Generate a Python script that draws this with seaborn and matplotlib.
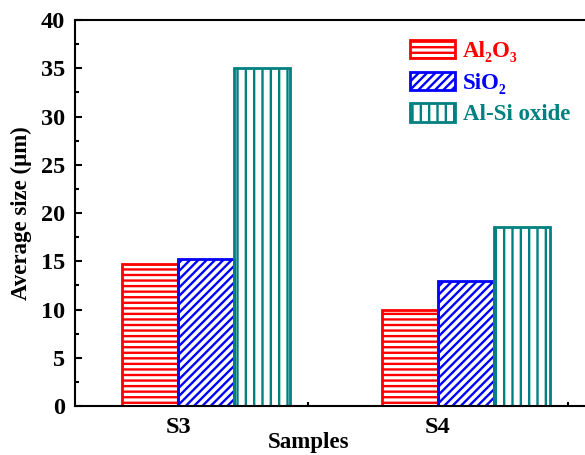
import matplotlib
matplotlib.use("Agg")
import matplotlib.pyplot as plt
import seaborn as sns
import pandas as pd
from matplotlib.ticker import FixedLocator, MultipleLocator

samples = ["S3", "S4"]
phases = ["Al₂O₃", "SiO₂", "Al-Si oxide"]
al2o3 = [14.7, 9.9]
sio2 = [15.2, 13.0]
alsi = [35.0, 18.6]
colors = ["#FF0000", "#0000FF", "#008080"]
hatches = ["---", "////", "||"]

rows = []
for s, a, b, c in zip(samples, al2o3, sio2, alsi):
    rows += [(s, phases[0], a), (s, phases[1], b), (s, phases[2], c)]
df = pd.DataFrame(rows, columns=["sample", "phase", "size"])

sns.set_style("ticks")
plt.rcParams["font.family"] = ["Liberation Serif", "DejaVu Serif"]
plt.rcParams["font.weight"] = "bold"
plt.rcParams["hatch.linewidth"] = 1.7
for k in ["text.color", "axes.labelcolor", "xtick.color", "ytick.color", "axes.edgecolor"]:
    plt.rcParams[k] = "black"

W, H = 585, 455
fig = plt.figure(figsize=(W / 100, H / 100), dpi=100)
ax = fig.add_axes([75 / W, (H - 406) / H, 1 - 75 / W, (406 - 20) / H])

total_w = 0.646
sns.barplot(data=df, x="sample", y="size", hue="phase", order=samples,
            hue_order=phases, palette=colors, fill=False, width=total_w,
            linewidth=2, ax=ax, legend=False, errorbar=None)

for cont, h, col in zip(ax.containers, hatches, colors):
    for p in cont.patches:
        p.set_hatch(h)
        p.set_edgecolor(col)
        p.set_linewidth(2)

ax.set_ylim(0, 40)
ax.set_xlim(-0.504, 1.458)
bw = total_w / len(phases)
ticks = [i - bw / 2 for i in range(len(samples))]
ax.xaxis.set_major_locator(FixedLocator(ticks))
ax.set_xticklabels(samples)
ax.xaxis.set_minor_locator(FixedLocator([t + 0.5 for t in ticks]))
ax.yaxis.set_major_locator(MultipleLocator(5))
ax.yaxis.set_minor_locator(MultipleLocator(2.5))
ax.tick_params(which="both", direction="in", width=1.5, labelsize=17.5, colors="black")
ax.tick_params(which="major", length=5)
ax.tick_params(which="minor", length=3)
ax.tick_params(axis="x", which="major", pad=8)
ax.tick_params(axis="y", which="major", pad=7)
for lab in ax.get_xticklabels() + ax.get_yticklabels():
    lab.set_fontweight("bold")

for side in ["left", "bottom", "top"]:
    ax.spines[side].set_visible(True)
    ax.spines[side].set_linewidth(1.5)
    ax.spines[side].set_color("black")
ax.spines["right"].set_visible(False)

ax.set_xlabel("Samples", fontsize=16.5, fontweight="bold")
ax.set_ylabel("Average size (μm)", fontsize=16.5, fontweight="bold")
ax.xaxis.set_label_coords((309 - 75) / (W - 75), -0.068)
ax.yaxis.set_label_coords(-0.084, 0.5)

leg = ax.legend(ax.containers, phases, loc="upper left",
                bbox_to_anchor=(410 / W, 1 - 40 / H), bbox_transform=fig.transFigure,
                frameon=False, fontsize=16.5, handlelength=1.95, handleheight=0.85,
                handletextpad=0.35, labelspacing=0.42, borderpad=0, borderaxespad=0)
for t, col in zip(leg.get_texts(), colors):
    t.set_color(col)
    t.set_fontweight("bold")

fig.savefig("out.png", dpi=100)
